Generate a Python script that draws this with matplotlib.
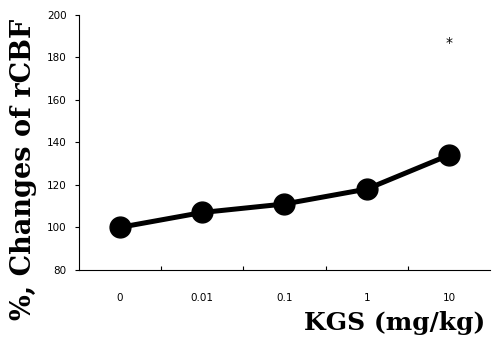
import numpy as np
import matplotlib
matplotlib.use('Agg')
import matplotlib.pyplot as plt

# dose groups and mean rCBF change (% of control)
doses = ['0', '0.01', '0.1', '1', '10']
rcbf = [100, 107, 111, 118, 134]
star_y = 187  # significance marker above the 10 mg/kg point

x = np.arange(len(doses))

fig = plt.figure(figsize=(4.93, 3.39), dpi=100)
ax = fig.add_axes([0.160, 0.204, 0.834, 0.752])

ax.plot(x, rcbf, color='black', lw=3.6, marker='o', ms=15,
        markerfacecolor='black', markeredgecolor='black')
ax.text(x[-1], star_y, '*', ha='center', va='center', fontsize=10)

ax.set_xlim(-0.5, len(doses) - 0.5)
ax.set_ylim(80, 200)
ax.set_yticks(np.arange(80, 201, 20))
ax.set_yticklabels([str(v) for v in range(80, 201, 20)], fontsize=7.5)
# dose labels sit between the tick marks
ax.set_xticks(np.arange(0.5, len(doses) - 1, 1.0))
ax.set_xticklabels([])
ax.set_xticks(x, minor=True)
ax.set_xticklabels(doses, minor=True, fontsize=7.5)
ax.tick_params(axis='x', which='minor', length=0, pad=17)
ax.tick_params(axis='x', which='major', direction='in', length=3, width=0.8)
ax.tick_params(axis='y', direction='out', length=3, width=0.8, pad=6)

for s in ['top', 'right']:
    ax.spines[s].set_visible(False)
for s in ['left', 'bottom']:
    ax.spines[s].set_linewidth(0.8)

fig.text(0.048, 0.50, '%, Changes of rCBF', rotation=90, ha='center', va='center',
         fontsize=19.5, fontweight='bold', family='DejaVu Serif')
fig.text(0.985, 0.047, 'KGS (mg/kg)', ha='right', va='center',
         fontsize=18, fontweight='bold', family='DejaVu Serif')

fig.savefig('out.png', dpi=100)
